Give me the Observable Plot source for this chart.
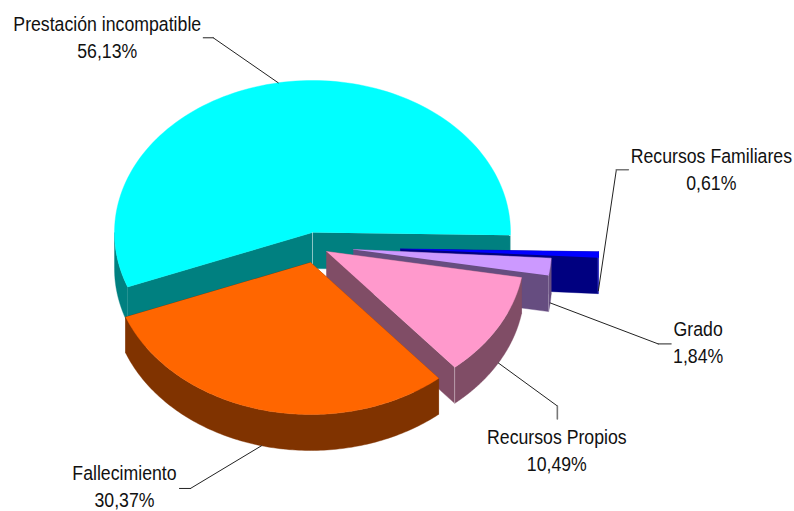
<!DOCTYPE html>
<html><head><meta charset="utf-8">
<style>html,body{margin:0;padding:0;background:#fff}svg{display:block}</style>
<script src="https://cdn.jsdelivr.net/npm/d3@7"></script>
<script src="https://cdn.jsdelivr.net/npm/@observablehq/plot@0.6"></script>
</head><body>
<script>
// Data, clockwise from just below east
const names  = ["Recursos Familiares","Grado","Recursos Propios","Fallecimiento","Prestación incompatible"];
const shares = [0.61,1.84,10.49,30.37,56.13];
const topColors  = ["#0000ff","#cc99ff","#ff99cc","#ff6600","#00ffff"];
const wallColors = ["#000080","#664d80","#804d66","#803300","#008080"];
// Pie geometry
const rx = 198, ry = 152, depth = 36, startAngle = 1.07;
const centerX = [400,353,326,310,312];
const centerY = [248.5,249,251,262,232];
// Labels & leaders: offsets from each slice's rim anchor
const elbowDx = [18,108,59,-71,-65];
const elbowDy = [-121,41,43,42.7,-45];
const tailDx  = [30,121,59,-82,-75];
const tailDy  = [-121,41,56,42.7,-45];
const labelDx = [113,148,58.5,-137,-171];
const labelDy = [-133.7,27,74.6,28,-58.2];
const tailColors = ["#777","#222","#777","#222","#222"];
const tailWidths = [1.6,1,1.6,1,1];
const labelLine = 27, narrow = 0.908;

const rad = d => d * Math.PI / 180;
const remainder = 100 - d3.sum(shares);
let a = startAngle;
const slices = names.map((name,i) => {
  // the unlabelled remainder of the 100% is drawn with the Recursos Propios slice
  const span = (shares[i] + (i === 2 ? remainder : 0)) * 3.6;
  const s = {name, share: shares[i], a0: a, a1: a + span, cx: centerX[i], cy: centerY[i], top: topColors[i], wall: wallColors[i], i};
  a += span;
  return s;
});
const rim = (s,t,dz=0) => [s.cx + rx*Math.cos(rad(t)), s.cy + ry*Math.sin(rad(t)) + dz];
const arc = (s,t0,t1,dz=0) => d3.range(0,121).map(k => rim(s, t0 + (t1-t0)*k/120, dz));
const apex = (s,dz=0) => [s.cx, s.cy + dz];
const poly = (pts,fill) => Plot.line(pts,{x:d=>d[0],y:d=>d[1],fill,stroke:fill,strokeWidth:0.4});
const edge = (p,q,stroke="#fff",o=0.4) => Plot.line([p,q],{x:d=>d[0],y:d=>d[1],stroke,strokeWidth:1,strokeOpacity:o});

function sliceMarks(s){
  const out = [];
  out.push(poly([apex(s),rim(s,s.a0),rim(s,s.a0,depth),apex(s,depth)],s.wall));
  out.push(poly([apex(s),rim(s,s.a1),rim(s,s.a1,depth),apex(s,depth)],s.wall));
  const w0 = Math.max(s.a0,0), w1 = Math.min(s.a1,180);
  if (w1 > w0) out.push(poly([...arc(s,w0,w1),...arc(s,w1,w0,depth)],s.wall));
  out.push(poly([apex(s),...arc(s,s.a0,s.a1)],s.top));
  return out;
}
const sliceEdges = {
  0: s => [edge(rim(s,s.a1),rim(s,s.a1,depth),"#66f",0.7), edge(rim(s,s.a1),rim(s,s.a0),"#0000ff",1)],
  1: s => [edge(rim(s,s.a1),rim(s,s.a1,depth),"#fff",0.25)],
  2: s => [edge(rim(s,s.a1),rim(s,s.a1,depth))],
  3: s => [],
  4: s => [edge(apex(s),apex(s,depth)),edge(rim(s,s.a1),rim(s,s.a1,depth))]
};
const order = [4,0,1,2,3];
const pieMarks = order.flatMap(i => [...sliceMarks(slices[i]), ...sliceEdges[i](slices[i])]);
const anchors = slices.map(s => {
  const mid = (s.a0+s.a1)/2;
  return Math.sin(rad(mid))>0 ? rim(s,mid,depth) : rim(s,mid);
});
const leaders = slices.flatMap((s,i) => {
  const p = anchors[i];
  const e = [p[0]+elbowDx[i],p[1]+elbowDy[i]], t = [p[0]+tailDx[i],p[1]+tailDy[i]];
  return [
    Plot.line([p,e],{x:d=>d[0],y:d=>d[1],stroke:"#222",strokeWidth:1}),
    Plot.line([e,t],{x:d=>d[0],y:d=>d[1],stroke:tailColors[i],strokeWidth:tailWidths[i]})
  ];
});
const labels = slices.flatMap((s,i) => {
  const x = anchors[i][0]+labelDx[i], y = anchors[i][1]+labelDy[i];
  return [{t:s.name,x,y},{t:s.share.toFixed(2).replace(".",",")+"%",x,y:y+labelLine}];
});
const plot = Plot.plot({
  width:794,height:511,margin:0,
  style:{background:"#fff"},
  x:{domain:[0,794],range:[0,794],axis:null},
  y:{domain:[0,511],range:[0,511],axis:null},
  marks:[
    ...pieMarks,
    ...leaders,
    Plot.text(labels,{x:"x",y:"y",text:"t",textAnchor:"middle",lineAnchor:"middle",
      fontFamily:"'Liberation Sans',Arial,sans-serif",fontSize:19.5,fill:"#111"})
  ]
});
document.body.appendChild(plot);
// Arial-Narrow look: condense the real text horizontally about its own anchor
plot.querySelectorAll("text").forEach(el => {
  const tr = el.getAttribute("transform") || "";
  el.setAttribute("transform", `${tr} scale(${narrow},1)`.trim());
});
</script>
</body></html>
